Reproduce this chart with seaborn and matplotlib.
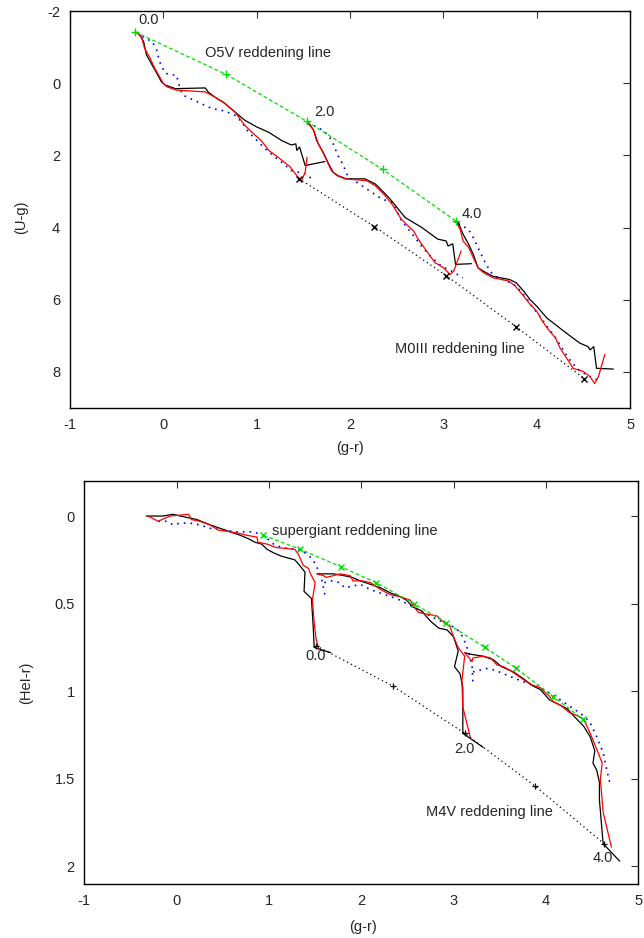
import matplotlib
matplotlib.use("Agg")
import matplotlib.pyplot as plt
import seaborn as sns

# ---- top panel: (U-g) vs (g-r) ----
# E(B-V)=0 tracks
ug0_blk_x = [-0.30, -0.25, -0.21, -0.18, -0.12, -0.07, -0.02, 0.02, 0.13, 0.45, 0.48, 0.55, 0.64, 0.77, 0.87, 1.00, 1.13, 1.27, 1.37, 1.42, 1.43, 1.46, 1.52, 1.73]
ug0_blk_y = [-1.42, -1.34, -1.15, -0.79, -0.51, -0.28, -0.04, 0.05, 0.15, 0.13, 0.24, 0.38, 0.52, 0.80, 1.02, 1.21, 1.36, 1.59, 1.71, 1.68, 1.86, 1.77, 2.28, 2.17]
ug0_red_x = [-0.28, -0.23, -0.20, -0.14, -0.09, -0.04, 0.00, 0.04, 0.14, 0.45, 0.55, 0.66, 0.77, 0.87, 0.95, 1.05, 1.13, 1.23, 1.36, 1.43, 1.48, 1.52, 1.54]
ug0_red_y = [-1.41, -1.25, -0.97, -0.69, -0.41, -0.18, 0.00, 0.10, 0.19, 0.24, 0.38, 0.56, 0.80, 1.16, 1.36, 1.59, 1.86, 2.05, 2.32, 2.56, 2.70, 2.47, 2.05]
ug0_blu_x = [-0.28, -0.20, -0.12, -0.07, -0.04, 0.02, 0.09, 0.14, 0.18, 0.21, 0.37, 0.52, 0.66, 0.77, 0.84, 0.91, 1.02, 1.13, 1.27, 1.37, 1.52, 1.62]
ug0_blu_y = [-1.41, -1.25, -1.16, -0.92, -0.60, -0.28, -0.23, -0.23, 0.15, 0.33, 0.52, 0.70, 0.77, 0.89, 1.07, 1.35, 1.63, 1.91, 2.19, 2.42, 2.51, 2.70]
# E(B-V)=2 tracks
ug2_blk_x = [1.54, 1.57, 1.61, 1.66, 1.72, 1.77, 1.82, 1.87, 1.96, 2.16, 2.27, 2.36, 2.43, 2.59, 2.77, 2.94, 3.03, 3.05, 3.10, 3.13, 3.30]
ug2_blk_y = [1.10, 1.14, 1.30, 1.68, 1.95, 2.23, 2.47, 2.56, 2.65, 2.65, 2.79, 3.02, 3.21, 3.72, 4.00, 4.32, 4.37, 4.51, 4.45, 5.02, 5.00]
ug2_red_x = [1.55, 1.61, 1.64, 1.70, 1.75, 1.80, 1.86, 1.95, 2.18, 2.27, 2.36, 2.45, 2.55, 2.62, 2.68, 2.73, 2.82, 2.91, 3.00, 3.07, 3.11, 3.19]
ug2_red_y = [1.10, 1.30, 1.58, 1.86, 2.14, 2.42, 2.56, 2.65, 2.70, 2.84, 3.07, 3.35, 3.77, 3.95, 4.09, 4.32, 4.65, 4.97, 5.11, 5.30, 5.21, 4.65]
ug2_blu_x = [1.55, 1.68, 1.77, 1.82, 1.87, 1.93, 1.98, 2.07, 2.18, 2.34, 2.45, 2.50, 2.55, 2.64, 2.75, 2.84, 2.98, 3.09, 3.21]
ug2_blu_y = [1.10, 1.26, 1.44, 1.68, 2.00, 2.28, 2.61, 2.74, 2.93, 3.21, 3.30, 3.53, 3.81, 4.09, 4.46, 4.74, 5.07, 5.21, 5.39]
# E(B-V)=4 tracks
ug4_blk_x = [3.12, 3.16, 3.21, 3.27, 3.32, 3.37, 3.43, 3.53, 3.71, 3.78, 3.86, 3.93, 4.00, 4.11, 4.18, 4.32, 4.46, 4.55, 4.57, 4.61, 4.64, 4.82]
ug4_blk_y = [3.84, 3.86, 4.18, 4.46, 4.74, 5.11, 5.21, 5.35, 5.44, 5.53, 5.76, 6.00, 6.18, 6.51, 6.65, 6.93, 7.20, 7.30, 7.39, 7.30, 7.90, 7.92]
ug4_red_x = [3.14, 3.18, 3.21, 3.27, 3.32, 3.37, 3.43, 3.53, 3.70, 3.77, 3.86, 3.93, 4.00, 4.05, 4.11, 4.20, 4.25, 4.32, 4.39, 4.50, 4.57, 4.62, 4.66, 4.73]
ug4_red_y = [3.86, 4.05, 4.37, 4.55, 4.83, 5.11, 5.25, 5.39, 5.48, 5.62, 5.90, 6.13, 6.32, 6.55, 6.78, 7.06, 7.34, 7.62, 7.90, 7.99, 8.13, 8.32, 8.13, 7.51]
ug4_blu_x = [3.16, 3.27, 3.32, 3.37, 3.43, 3.50, 3.55, 3.68, 3.78, 3.89, 3.96, 4.02, 4.11, 4.18, 4.25, 4.34, 4.43, 4.53, 4.69]
ug4_blu_y = [3.89, 4.05, 4.28, 4.55, 4.88, 5.21, 5.35, 5.48, 5.62, 5.95, 6.23, 6.41, 6.74, 6.97, 7.25, 7.62, 7.90, 8.08, 8.27]
# reddening lines
o5v_x = [-0.30, 0.67, 1.54, 2.35, 3.13]
o5v_y = [-1.42, -0.25, 1.06, 2.39, 3.81]
m0iii_x = [1.45, 2.26, 3.03, 3.78, 4.51]
m0iii_y = [2.64, 3.97, 5.33, 6.75, 8.19]

# ---- bottom panel: (HeI-r) vs (g-r) ----
he0_blk_x = [-0.33, -0.24, -0.15, -0.04, 0.04, 0.13, 0.22, 0.36, 0.47, 0.58, 0.69, 0.78, 0.85, 0.92, 0.98, 1.05, 1.14, 1.28, 1.33, 1.39, 1.38, 1.46, 1.48, 1.49, 1.67]
he0_blk_y = [0.00, 0.00, 0.00, -0.01, 0.00, 0.01, 0.02, 0.05, 0.07, 0.09, 0.11, 0.13, 0.15, 0.16, 0.19, 0.21, 0.23, 0.25, 0.28, 0.32, 0.43, 0.47, 0.64, 0.75, 0.78]
he0_red_x = [-0.31, -0.20, -0.16, -0.07, 0.13, 0.16, 0.25, 0.36, 0.45, 0.58, 0.69, 0.76, 0.87, 0.88, 0.98, 1.08, 1.28, 1.32, 1.37, 1.43, 1.45, 1.50, 1.47, 1.49, 1.51, 1.54]
he0_red_y = [0.00, 0.03, 0.02, 0.00, -0.01, 0.02, 0.03, 0.05, 0.08, 0.09, 0.10, 0.11, 0.12, 0.15, 0.16, 0.18, 0.19, 0.22, 0.28, 0.30, 0.33, 0.38, 0.48, 0.61, 0.70, 0.76]
he0_blu_x = [-0.20, -0.11, -0.04, 0.04, 0.14, 0.25, 0.36, 0.51, 0.65, 0.83, 0.94, 1.05, 1.14, 1.30, 1.39, 1.46, 1.51, 1.57, 1.61]
he0_blu_y = [0.03, 0.03, 0.05, 0.04, 0.04, 0.05, 0.07, 0.08, 0.09, 0.09, 0.11, 0.16, 0.18, 0.19, 0.21, 0.24, 0.28, 0.36, 0.46]
he2_blk_x = [1.52, 1.59, 1.70, 1.81, 1.90, 1.99, 2.10, 2.21, 2.32, 2.42, 2.49, 2.56, 2.65, 2.75, 2.84, 2.93, 3.00, 3.05, 3.01, 3.07, 3.10, 3.10, 3.32]
he2_blk_y = [0.33, 0.33, 0.33, 0.34, 0.35, 0.37, 0.39, 0.41, 0.44, 0.46, 0.48, 0.52, 0.54, 0.60, 0.64, 0.65, 0.69, 0.77, 0.86, 0.90, 0.98, 1.24, 1.32]
he2_red_x = [1.52, 1.59, 1.62, 1.70, 1.77, 1.88, 1.91, 2.01, 2.10, 2.21, 2.32, 2.42, 2.53, 2.56, 2.62, 2.71, 2.82, 2.90, 2.96, 3.00, 3.05, 3.12, 3.09, 3.10, 3.18]
he2_red_y = [0.33, 0.34, 0.35, 0.34, 0.33, 0.34, 0.37, 0.37, 0.38, 0.42, 0.45, 0.46, 0.48, 0.51, 0.55, 0.56, 0.57, 0.61, 0.63, 0.69, 0.75, 0.80, 0.94, 1.09, 1.26]
he2_blu_x = [1.60, 1.68, 1.77, 1.82, 1.90, 1.99, 2.10, 2.21, 2.32, 2.42, 2.53, 2.67, 2.82, 2.94, 3.03, 3.10, 3.16, 3.20, 3.21]
he2_blu_y = [0.38, 0.37, 0.38, 0.41, 0.40, 0.39, 0.42, 0.44, 0.46, 0.48, 0.51, 0.55, 0.59, 0.62, 0.64, 0.69, 0.77, 0.86, 0.96]
he4_blk_x = [3.12, 3.20, 3.32, 3.43, 3.52, 3.65, 3.76, 3.86, 3.94, 4.04, 4.12, 4.23, 4.30, 4.41, 4.48, 4.53, 4.51, 4.55, 4.58, 4.58, 4.62, 4.80]
he4_blk_y = [0.78, 0.79, 0.80, 0.82, 0.86, 0.89, 0.93, 0.97, 0.99, 1.05, 1.07, 1.10, 1.14, 1.20, 1.26, 1.34, 1.41, 1.45, 1.52, 1.62, 1.87, 1.97]
he4_red_x = [3.12, 3.20, 3.21, 3.32, 3.40, 3.47, 3.54, 3.61, 3.72, 3.83, 3.94, 4.04, 4.08, 4.16, 4.25, 4.34, 4.41, 4.48, 4.55, 4.61, 4.59, 4.62, 4.71]
he4_red_y = [0.78, 0.83, 0.81, 0.80, 0.81, 0.85, 0.86, 0.88, 0.92, 0.96, 0.98, 1.03, 1.06, 1.08, 1.12, 1.14, 1.16, 1.24, 1.33, 1.41, 1.50, 1.69, 1.89]
he4_blu_x = [3.21, 3.28, 3.36, 3.45, 3.54, 3.68, 3.83, 3.94, 4.04, 4.16, 4.30, 4.41, 4.48, 4.55, 4.62, 4.66, 4.70]
he4_blu_y = [0.89, 0.88, 0.87, 0.88, 0.90, 0.93, 0.96, 0.98, 1.01, 1.05, 1.10, 1.14, 1.18, 1.26, 1.35, 1.45, 1.54]
sg_x = [0.94, 1.34, 1.78, 2.16, 2.57, 2.92, 3.34, 3.68, 4.08, 4.40]
sg_y = [0.11, 0.19, 0.29, 0.38, 0.50, 0.61, 0.75, 0.87, 1.03, 1.16]
m4v_x = [1.51, 2.34, 3.12, 3.88, 4.63]
m4v_y = [0.74, 0.97, 1.24, 1.54, 1.87]

sns.set_style("white")
plt.rcParams['font.family'] = ['Liberation Sans', 'DejaVu Sans']
plt.rcParams['axes.unicode_minus'] = False

GREEN = '#00dd00'
FS = 10.5
fig = plt.figure(figsize=(6.44, 9.38), dpi=100)
ax1 = fig.add_axes([0.1085, 0.565, 0.870, 0.4232])
ax2 = fig.add_axes([0.1310, 0.0576, 0.8600, 0.4296])


def track(ax, x, y, color, ls='-', lw=0.9):
    sns.lineplot(x=x, y=y, ax=ax, sort=False, estimator=None, color=color,
                 linestyle=ls, linewidth=lw)


#graficos del panel superior
for bx, by, rx, ry, ux, uy in [
        (ug0_blk_x, ug0_blk_y, ug0_red_x, ug0_red_y, ug0_blu_x, ug0_blu_y),
        (ug2_blk_x, ug2_blk_y, ug2_red_x, ug2_red_y, ug2_blu_x, ug2_blu_y),
        (ug4_blk_x, ug4_blk_y, ug4_red_x, ug4_red_y, ug4_blu_x, ug4_blu_y)]:
    track(ax1, ux, uy, 'blue', ls=(0, (1, 3)), lw=1.2)
    track(ax1, bx, by, 'black')
    track(ax1, rx, ry, 'red')

sns.lineplot(x=o5v_x, y=o5v_y, ax=ax1, sort=False, estimator=None, color=GREEN,
             linestyle=(0, (3, 2)), linewidth=0.9, marker='+', markersize=6,
             markeredgecolor=GREEN, markeredgewidth=1.0)
sns.lineplot(x=m0iii_x, y=m0iii_y, ax=ax1, sort=False, estimator=None, color='black',
             linestyle=(0, (1, 2.5)), linewidth=0.9, marker='x', markersize=5,
             markeredgecolor='black', markeredgewidth=1.0)

ax1.text(-0.16, -1.76, '0.0', ha='center', va='center', fontsize=FS)
ax1.text(1.73, 0.81, '2.0', ha='center', va='center', fontsize=FS)
ax1.text(3.30, 3.63, '4.0', ha='center', va='center', fontsize=FS)
ax1.text(1.12, -0.84, 'O5V reddening line', ha='center', va='center', fontsize=FS)
ax1.text(3.18, 7.36, 'M0III reddening line', ha='center', va='center', fontsize=FS)

ax1.set_xlim(-1, 5)
ax1.set_ylim(9, -2)
ax1.set_yticks([-2, 0, 2, 4, 6, 8])
ax1.set_xlabel('(g-r)', fontsize=FS)
ax1.set_ylabel('(U-g)', fontsize=FS)
ax1.xaxis.set_label_coords(0.5, -0.083)
ax1.yaxis.set_label_coords(-0.075, 0.48)

#graficos del panel inferior
for bx, by, rx, ry, ux, uy in [
        (he0_blk_x, he0_blk_y, he0_red_x, he0_red_y, he0_blu_x, he0_blu_y),
        (he2_blk_x, he2_blk_y, he2_red_x, he2_red_y, he2_blu_x, he2_blu_y),
        (he4_blk_x, he4_blk_y, he4_red_x, he4_red_y, he4_blu_x, he4_blu_y)]:
    track(ax2, ux, uy, 'blue', ls=(0, (1, 3)), lw=1.2)
    track(ax2, bx, by, 'black')
    track(ax2, rx, ry, 'red')

sns.lineplot(x=sg_x, y=sg_y, ax=ax2, sort=False, estimator=None, color=GREEN,
             linestyle=(0, (3, 2)), linewidth=0.9, marker='x', markersize=5,
             markeredgecolor=GREEN, markeredgewidth=1.0)
sns.lineplot(x=m4v_x, y=m4v_y, ax=ax2, sort=False, estimator=None, color='black',
             linestyle=(0, (1, 2.5)), linewidth=0.9, marker='+', markersize=5,
             markeredgecolor='black', markeredgewidth=0.9)

ax2.text(1.03, 0.085, 'supergiant reddening line', ha='left', va='center', fontsize=FS)
ax2.text(1.51, 0.80, '0.0', ha='center', va='center', fontsize=FS)
ax2.text(3.12, 1.33, '2.0', ha='center', va='center', fontsize=FS)
ax2.text(4.62, 1.95, '4.0', ha='center', va='center', fontsize=FS)
ax2.text(3.39, 1.69, 'M4V reddening line', ha='center', va='center', fontsize=FS)

ax2.set_xlim(-1, 5)
ax2.set_ylim(2.1, -0.2)
ax2.set_yticks([0, 0.5, 1, 1.5, 2])
ax2.set_yticklabels(['0', '0.5', '1', '1.5', '2'])
ax2.set_xlabel('(g-r)', fontsize=FS)
ax2.set_ylabel('(HeI-r)', fontsize=FS)
ax2.xaxis.set_label_coords(0.504, -0.090)
ax2.yaxis.set_label_coords(-0.092, 0.5)

for ax in (ax1, ax2):
    ax.tick_params(direction='in', top=True, right=True, length=5, width=0.8,
                   labelsize=FS, pad=7, color='#333333')
    for s in ax.spines.values():
        s.set_linewidth(1.0)
        s.set_color('black')

fig.savefig('out.png', dpi=100)
